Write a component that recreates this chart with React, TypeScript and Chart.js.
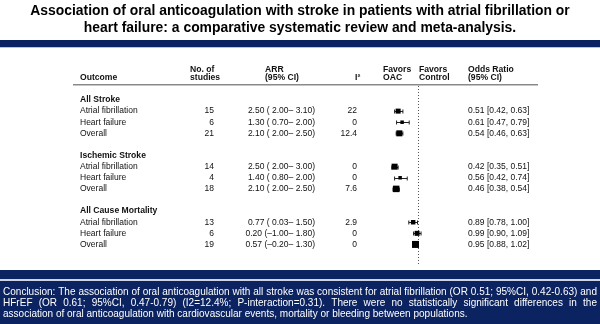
import React, { useEffect, useRef } from "react";
import { Chart, registerables } from "chart.js";

Chart.register(...registerables);

const titleLines = [
  "Association of oral anticoagulation with stroke in patients with atrial fibrillation or",
  "heart failure: a comparative systematic review and meta-analysis.",
];
const outcomes = ["All Stroke", "Ischemic Stroke", "All Cause Mortality"];
const subgroups = ["Atrial fibrillation", "Heart failure", "Overall"];
const studies = [15, 6, 21, 14, 4, 18, 13, 6, 19];
const arrEst = [2.5, 1.3, 2.1, 2.5, 1.4, 2.1, 0.77, 0.2, 0.57];
const arrLo = [2.0, 0.7, 2.0, 2.0, 0.8, 2.0, 0.03, -1.0, -0.2];
const arrHi = [3.1, 2.0, 2.5, 3.0, 2.0, 2.5, 1.5, 1.8, 1.3];
const i2 = [22, 0, 12.4, 0, 0, 7.6, 2.9, 0, 0];
const orEst = [0.51, 0.61, 0.54, 0.42, 0.56, 0.46, 0.89, 0.99, 0.95];
const orLo = [0.42, 0.47, 0.46, 0.35, 0.42, 0.38, 0.78, 0.9, 0.88];
const orHi = [0.63, 0.79, 0.63, 0.51, 0.74, 0.54, 1.0, 1.09, 1.02];
const conclusionLines = [
  "Conclusion: The association of oral anticoagulation with all stroke was consistent for atrial fibrillation (OR 0.51; 95%CI, 0.42-0.63) and",
  "HFrEF (OR 0.61; 95%CI, 0.47-0.79) (I2=12.4%; P-interaction=0.31). There were no statistically significant differences in the",
  "association of oral anticoagulation with cardiovascular events, mortality or bleeding between populations.",
];

// style only: square side (px) per study row
const markerSide = [5, 3.5, 6, 6, 3.5, 6.5, 4.5, 5, 7];

const NAVY = "#0b2361";
const FONT = "'Liberation Sans', Arial, Helvetica, sans-serif";

const rowOf = (i: number) => Math.floor(i / 3) * 5 + 1 + (i % 3);
const fmtNum = (v: number) => (v < 0 ? "\u2013" + Math.abs(v).toFixed(2) : " " + v.toFixed(2));
const fmtArr = (i: number) =>
  `${arrEst[i].toFixed(2)} (${fmtNum(arrLo[i])}\u2013${fmtNum(arrHi[i])})`;
const fmtOr = (i: number) =>
  `${orEst[i].toFixed(2)} [${orLo[i].toFixed(2)}, ${orHi[i].toFixed(2)}]`;

function drawWords(
  ctx: CanvasRenderingContext2D,
  text: string,
  left: number,
  right: number,
  y: number,
  sx: number,
  justify: boolean
) {
  const words = text.split(" ");
  ctx.save();
  ctx.translate(left, y);
  ctx.scale(sx, 1);
  const total = (right - left) / sx;
  const ww = words.map((w) => ctx.measureText(w).width);
  const sum = ww.reduce((a, b) => a + b, 0);
  const gap = justify ? (total - sum) / (words.length - 1) : ctx.measureText(" ").width;
  let x = 0;
  words.forEach((w, k) => {
    ctx.fillText(w, x, 0);
    x += ww[k] + gap;
  });
  ctx.restore();
}

const forestPlugin = {
  id: "forest",
  beforeDraw(chart: any) {
    const ctx: CanvasRenderingContext2D = chart.ctx;
    const W = chart.width;
    const H = chart.height;
    const ys = chart.scales.y;
    const xs = chart.scales.x;
    ctx.save();
    ctx.fillStyle = "#ffffff";
    ctx.fillRect(0, 0, W, H);

    // title
    ctx.fillStyle = "#000";
    ctx.textAlign = "center";
    ctx.textBaseline = "middle";
    ctx.font = `bold 13px ${FONT}`;
    const w13 = ctx.measureText(titleLines[0]).width;
    const tsize = (13 * 540) / w13;
    ctx.font = `bold ${tsize.toFixed(2)}px ${FONT}`;
    ctx.fillText(titleLines[0], W / 2, 11);
    ctx.fillText(titleLines[1], W / 2, 28);

    // top band
    ctx.fillStyle = NAVY;
    ctx.fillRect(0, 40, W, 7);
    ctx.fillStyle = "#b9c4da";
    ctx.fillRect(0, 47, W, 1);

    // bottom band + box
    ctx.fillStyle = NAVY;
    ctx.fillRect(0, 270, W, 9);
    ctx.fillStyle = "#cdd5e5";
    ctx.fillRect(0, 279, W, 2);
    ctx.fillStyle = NAVY;
    ctx.fillRect(0, 281, W, H - 281);

    // conclusion
    ctx.fillStyle = "#ffffff";
    ctx.textAlign = "left";
    ctx.textBaseline = "middle";
    ctx.font = `10.5px ${FONT}`;
    const natural0 = ctx.measureText(conclusionLines[0]).width;
    const sx = 592 / natural0;
    drawWords(ctx, conclusionLines[0], 3, 597, 292, sx, true);
    drawWords(ctx, conclusionLines[1], 3, 597, 303, sx, true);
    drawWords(ctx, conclusionLines[2], 3, 597, 314, sx, false);

    // header
    ctx.fillStyle = "#111";
    ctx.font = `bold 8.6px ${FONT}`;
    ctx.textAlign = "left";
    ctx.fillText("Outcome", 80, 78);
    ctx.fillText("No. of", 190, 70);
    ctx.fillText("studies", 190, 78);
    ctx.fillText("ARR", 265, 70);
    ctx.fillText("(95% CI)", 265, 78);
    ctx.fillText("I\u00b2", 355, 78);
    ctx.fillText("Favors", 383, 70);
    ctx.fillText("OAC", 383, 78);
    ctx.fillText("Favors", 419, 70);
    ctx.fillText("Control", 419, 78);
    ctx.fillText("Odds Ratio", 468, 70);
    ctx.fillText("(95% CI)", 468, 78);

    ctx.fillStyle = "#8a8a8a";
    ctx.fillRect(73, 84, 465, 1.5);

    // group titles
    outcomes.forEach((o, g) => {
      ctx.fillStyle = "#111";
      ctx.font = `bold 8.6px ${FONT}`;
      ctx.textAlign = "left";
      ctx.fillText(o, 80, ys.getPixelForValue(g * 5));
    });

    // rows
    ctx.font = `8.5px ${FONT}`;
    studies.forEach((n, i) => {
      const y = ys.getPixelForValue(rowOf(i));
      ctx.fillStyle = "#111";
      ctx.textAlign = "left";
      ctx.fillText(subgroups[i % 3], 80, y);
      ctx.textAlign = "right";
      ctx.fillText(String(n), 214, y);
      ctx.fillText(fmtArr(i), 315, y);
      ctx.fillText(String(i2[i]), 357, y);
      ctx.textAlign = "left";
      ctx.fillText(fmtOr(i), 468, y);
    });

    // reference line at OR = 1
    const x1 = Math.round(xs.getPixelForValue(1)) + 0.5;
    ctx.strokeStyle = "#555";
    ctx.lineWidth = 1;
    ctx.setLineDash([1, 2]);
    ctx.beginPath();
    ctx.moveTo(x1, chart.chartArea.top);
    ctx.lineTo(x1, chart.chartArea.bottom);
    ctx.stroke();
    ctx.setLineDash([]);
    ctx.restore();
  },
  beforeDatasetsDraw(chart: any) {
    const ctx: CanvasRenderingContext2D = chart.ctx;
    const ys = chart.scales.y;
    const xs = chart.scales.x;
    ctx.save();
    ctx.strokeStyle = "#222";
    ctx.lineWidth = 1;
    orEst.forEach((_, i) => {
      const y = Math.round(ys.getPixelForValue(rowOf(i))) + 0.5;
      const a = xs.getPixelForValue(orLo[i]);
      const b = xs.getPixelForValue(orHi[i]);
      ctx.beginPath();
      ctx.moveTo(a, y);
      ctx.lineTo(b, y);
      ctx.moveTo(a, y - 2);
      ctx.lineTo(a, y + 2);
      ctx.moveTo(b, y - 2);
      ctx.lineTo(b, y + 2);
      ctx.stroke();
    });
    ctx.restore();
  },
};

export default function App() {
  const ref = useRef<HTMLCanvasElement | null>(null);
  useEffect(() => {
    if (!ref.current) return;
    const chart = new Chart(ref.current, {
      type: "scatter",
      data: {
        datasets: [
          {
            data: orEst.map((v, i) => ({ x: v, y: rowOf(i) })),
            pointStyle: "rect",
            pointRadius: markerSide.map((s) => s / Math.SQRT2),
            backgroundColor: "#000",
            borderWidth: 0,
          },
        ],
      },
      options: {
        responsive: false,
        animation: false,
        events: [],
        layout: { padding: { left: 378, right: 143, top: 86, bottom: 60 } },
        scales: {
          x: { type: "linear", min: 0, max: 2, display: false },
          y: { type: "linear", min: -1.26, max: 14.76, reverse: true, display: false },
        },
        plugins: { legend: { display: false }, tooltip: { enabled: false } },
      },
      plugins: [forestPlugin],
    } as any);
    return () => chart.destroy();
  }, []);
  return (
    <div style={{ position: "fixed", left: 0, top: 0, width: 600, height: 324 }}>
      <canvas ref={ref} width={600} height={324} />
    </div>
  );
}
